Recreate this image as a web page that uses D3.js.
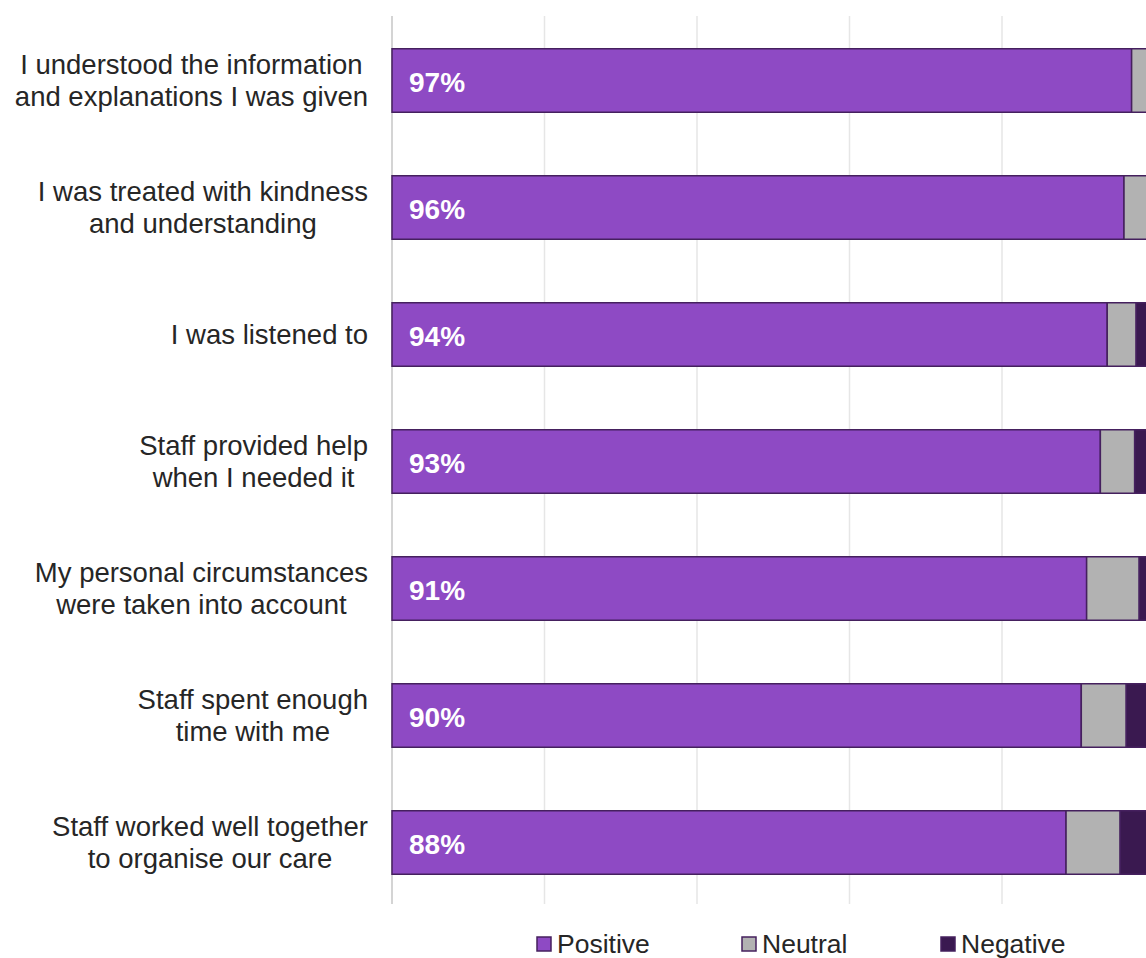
<!DOCTYPE html>
<html>
<head>
<meta charset="utf-8">
<script src="https://cdn.jsdelivr.net/npm/d3@7"></script>
<style>
  body { margin: 0; background: #fff; overflow: hidden; }
  text { font-family: "Liberation Sans", Arial, sans-serif; }
</style>
</head>
<body>
<div id="chart"></div>
<script>
// statements, top to bottom
var statements = [
    ["I understood the information", "and explanations I was given"],
    ["I was treated with kindness", "and understanding"],
    ["I was listened to"],
    ["Staff provided help", "when I needed it"],
    ["My personal circumstances", "were taken into account"],
    ["Staff spent enough", "time with me"],
    ["Staff worked well together", "to organise our care"]
]
var positive = [97, 96, 93.8, 92.9, 91.1, 90.4, 88.4]
var neutral = [3, 3, 3.8, 4.5, 6.9, 5.9, 7.1]
var negative = [0, 1, 2.4, 2.6, 2.0, 3.7, 4.5]
var posLabels = ["97%", "96%", "94%", "93%", "91%", "90%", "88%"]
var seriesNames = ["Positive", "Neutral", "Negative"]
var seriesColors = ["#8e4ac4", "#b2b2b2", "#3a1950"]
var gridTicks = [0, 20, 40, 60, 80, 100]

var width = 1146, height = 958
var margin = {top: 16, left: 392, bottom: 55}

var svg = d3.select("#chart")
    .append("svg")
    .attr("width", width)
    .attr("height", height)

var x = d3.scaleLinear()
    .domain([0, 100])
    .range([margin.left, margin.left + 762.5])

var y = d3.scaleBand()
    .domain(d3.range(statements.length))
    .range([margin.top + 1, height - margin.bottom + 3])
    .paddingInner(0.5)
    .paddingOuter(0.25)

// gridlines
svg.append("g")
    .selectAll("line")
    .data(gridTicks)
    .enter()
    .append("line")
    .attr("x1", function (d) { return x(d) })
    .attr("x2", function (d) { return x(d) })
    .attr("y1", margin.top)
    .attr("y2", 904)
    .attr("stroke", function (d) { return d == 0 ? "#d4d4d4" : "#e6e6e6" })
    .attr("stroke-width", function (d) { return d == 0 ? 2 : 1.5 })

var rows = statements.map(function (s, i) {
    return {i: i, Positive: positive[i], Neutral: neutral[i], Negative: negative[i]}
})
var stacked = d3.stack().keys(seriesNames)(rows)

svg.append("g")
    .selectAll("g")
    .data(stacked)
    .enter()
    .append("g")
    .attr("fill", function (d, k) { return seriesColors[k] })
    .selectAll("rect")
    .data(function (d) { return d })
    .enter()
    .append("rect")
    .attr("x", function (d) { return x(d[0]) })
    .attr("y", function (d) { return y(d.data.i) })
    .attr("width", function (d) { return Math.max(0, x(d[1]) - x(d[0])) })
    .attr("height", y.bandwidth())
    .attr("stroke", "#45205e")
    .attr("stroke-width", 1.5)

// value labels
svg.append("g")
    .selectAll("text")
    .data(posLabels)
    .enter()
    .append("text")
    .attr("x", x(0) + 17)
    .attr("y", function (d, i) { return y(i) + y.bandwidth() / 2 + 1 })
    .attr("dy", "0.36em")
    .attr("fill", "#fff")
    .attr("font-size", "28px")
    .attr("font-weight", "bold")
    .text(function (d) { return d })

// category labels: lines centred with each other, block right-aligned
var labelRight = 368
var labels = svg.append("g")
    .selectAll("text")
    .data(statements)
    .enter()
    .append("text")
    .attr("font-size", "27.5px")
    .attr("fill", "#262626")
    .attr("text-anchor", "middle")

labels.each(function (lines, i) {
    var t = d3.select(this)
    var cy = y(i) + y.bandwidth() / 2
    lines.forEach(function (line, j) {
        t.append("tspan")
            .attr("y", cy + (j - (lines.length - 1) / 2) * 32)
            .attr("dy", "0.36em")
            .text(line)
    })
    var maxW = 0
    t.selectAll("tspan").each(function () {
        maxW = Math.max(maxW, this.getComputedTextLength())
    })
    t.selectAll("tspan").attr("x", labelRight - maxW / 2)
})

// legend
var legendX = [537, 742, 941]
var legend = svg.append("g")
    .selectAll("g")
    .data(seriesNames)
    .enter()
    .append("g")
    .attr("transform", function (d, k) { return "translate(" + legendX[k] + ",944)" })

legend.append("rect")
    .attr("x", 0)
    .attr("y", -7)
    .attr("width", 14)
    .attr("height", 14)
    .attr("fill", function (d, k) { return seriesColors[k] })
    .attr("stroke", "#45205e")
    .attr("stroke-width", 1.5)

legend.append("text")
    .attr("x", 20)
    .attr("y", 0)
    .attr("dy", "0.34em")
    .attr("font-size", "26.5px")
    .attr("fill", "#262626")
    .text(function (d) { return d })
</script>
</body>
</html>
